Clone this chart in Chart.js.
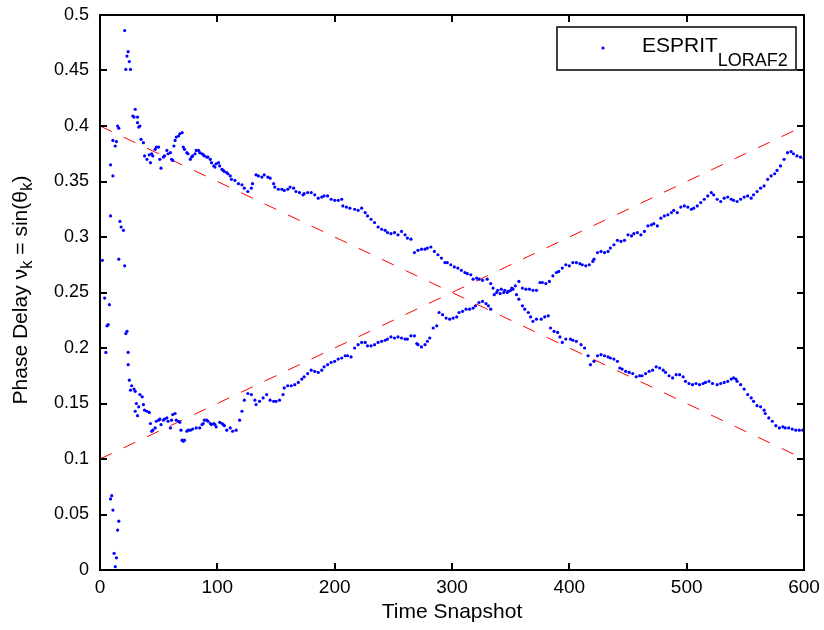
<!DOCTYPE html>
<html>
<head>
<meta charset="utf-8">
<script src="https://cdn.jsdelivr.net/npm/chart.js@4.4.1/dist/chart.umd.min.js"></script>
<style>
  html, body { margin: 0; padding: 0; background: #fff; }
  #wrap { width: 824px; height: 630px; }
</style>
</head>
<body>
<div id="wrap"><canvas id="chart" width="824" height="630"></canvas></div>
<script>
const FONT = '"Liberation Sans", Arial, sans-serif';

const xTicks = [0, 100, 200, 300, 400, 500, 600];
const yTicks = [0, 0.05, 0.1, 0.15, 0.2, 0.25, 0.3, 0.35, 0.4, 0.45, 0.5];

// true phase delays (dashed red)
const trueSnap = [0, 600];
const trueDown = [0.4, 0.1];
const trueUp = [0.1, 0.4];

// first snapshots, before the estimates settle
const earlySnap = [2, 4, 5, 6, 7, 8, 9, 9, 9, 10, 11, 11, 11, 12, 13, 13, 14, 14, 15, 15,
  16, 16, 16, 17, 18, 20, 21, 21, 22, 22, 23, 23, 24, 24, 24, 25, 25, 26, 26, 27,
  28, 29, 29, 30, 30, 30, 31, 32, 32, 32, 33, 33];
const earlyPhase = [0.279, 0.245, 0.196, 0.220, 0.221, 0.239, 0.319, 0.064, 0.365, 0.067, 0.355, 0.054, 0.387, 0.015, 0.382, 0.003, 0.386, 0.011, 0.400, 0.036,
  0.398, 0.044, 0.280, 0.314, 0.309, 0.306, 0.274, 0.486, 0.451, 0.213, 0.463, 0.215, 0.467, 0.185, 0.196, 0.458, 0.171, 0.451, 0.162, 0.166,
  0.409, 0.408, 0.163, 0.415, 0.161, 0.143, 0.150, 0.408, 0.403, 0.139, 0.147, 0.399];

// source going from 0.4 down to 0.1
const downSnap = [34, 35, 37, 38, 40, 42, 43, 44, 45, 47, 48, 50, 51, 52, 54, 55, 57, 58, 60, 61,
  62, 63, 64, 65, 67, 68, 70, 71, 72, 74, 75, 77, 78, 79, 81, 82, 84, 85, 87, 88,
  89, 91, 92, 94, 95, 97, 98, 99, 101, 102, 104, 105, 106, 108, 109, 111, 112, 115, 118, 121,
  123, 126, 129, 130, 133, 135, 138, 140, 143, 145, 148, 149, 152, 155, 157, 160, 162, 165, 167, 170,
  173, 174, 177, 180, 183, 186, 189, 191, 194, 197, 200, 203, 206, 207, 210, 213, 217, 220, 223, 226,
  228, 231, 234, 237, 240, 243, 245, 248, 251, 254, 257, 260, 262, 265, 268, 271, 274, 277, 279, 282,
  285, 288, 291, 294, 296, 299, 302, 305, 308, 311, 313, 316, 318, 321, 323, 326, 330, 333, 335, 338,
  341, 344, 347, 350, 352, 355, 357, 360, 362, 365, 367, 369, 372, 376, 379, 382, 384, 387, 390, 392,
  394, 397, 401, 403, 406, 410, 413, 416, 418, 421, 424, 427, 430, 433, 435, 438, 441, 443, 445, 448,
  451, 454, 457, 460, 462, 465, 468, 471, 474, 477, 480, 482, 485, 488, 491, 494, 497, 499, 502, 505,
  508, 511, 514, 516, 519, 522, 526, 529, 532, 535, 538, 540, 542, 543, 546, 549, 552, 555, 557, 560,
  563, 566, 567, 570, 573, 576, 579, 582, 584, 587, 590, 593, 596, 599];
const downPhase = [0.400, 0.388, 0.385, 0.373, 0.370, 0.374, 0.367, 0.375, 0.373, 0.379, 0.381, 0.381, 0.370, 0.362, 0.372, 0.373, 0.378, 0.375, 0.376, 0.370,
  0.369, 0.382, 0.387, 0.390, 0.391, 0.393, 0.394, 0.381, 0.379, 0.376, 0.375, 0.370, 0.372, 0.373, 0.375, 0.378, 0.378, 0.376, 0.375, 0.374,
  0.373, 0.372, 0.372, 0.370, 0.367, 0.364, 0.363, 0.366, 0.367, 0.364, 0.361, 0.360, 0.359, 0.358, 0.357, 0.355, 0.352, 0.351, 0.348, 0.347,
  0.344, 0.341, 0.344, 0.348, 0.356, 0.355, 0.354, 0.356, 0.354, 0.353, 0.348, 0.345, 0.343, 0.343, 0.342, 0.343, 0.345, 0.344, 0.341, 0.340,
  0.338, 0.339, 0.340, 0.340, 0.338, 0.335, 0.336, 0.337, 0.337, 0.334, 0.333, 0.333, 0.334, 0.328, 0.327, 0.326, 0.325, 0.324, 0.326, 0.322,
  0.319, 0.316, 0.313, 0.309, 0.307, 0.306, 0.304, 0.303, 0.304, 0.302, 0.305, 0.302, 0.299, 0.298, 0.286, 0.288, 0.289, 0.289, 0.290, 0.291,
  0.287, 0.284, 0.281, 0.277, 0.277, 0.275, 0.273, 0.272, 0.270, 0.268, 0.267, 0.266, 0.262, 0.263, 0.262, 0.261, 0.262, 0.258, 0.254, 0.250,
  0.249, 0.250, 0.250, 0.252, 0.253, 0.248, 0.244, 0.238, 0.235, 0.232, 0.228, 0.224, 0.226, 0.226, 0.228, 0.229, 0.218, 0.215, 0.214, 0.210,
  0.205, 0.208, 0.208, 0.207, 0.206, 0.203, 0.200, 0.193, 0.185, 0.188, 0.193, 0.194, 0.193, 0.192, 0.191, 0.190, 0.188, 0.182, 0.181, 0.179,
  0.178, 0.177, 0.174, 0.175, 0.175, 0.177, 0.179, 0.180, 0.183, 0.182, 0.180, 0.178, 0.175, 0.173, 0.176, 0.176, 0.174, 0.170, 0.168, 0.167,
  0.168, 0.167, 0.168, 0.169, 0.170, 0.168, 0.167, 0.168, 0.169, 0.170, 0.172, 0.173, 0.172, 0.170, 0.167, 0.163, 0.158, 0.155, 0.152, 0.148,
  0.147, 0.144, 0.141, 0.137, 0.134, 0.130, 0.128, 0.129, 0.128, 0.128, 0.127, 0.126, 0.126, 0.126];

// source going from 0.1 up to 0.4
const upSnap = [34, 36, 37, 38, 40, 42, 43, 44, 45, 47, 48, 50, 51, 52, 54, 55, 57, 58, 60, 61,
  62, 64, 65, 67, 68, 69, 70, 71, 72, 74, 75, 77, 79, 82, 85, 87, 88, 89, 91, 92,
  94, 95, 97, 98, 99, 102, 104, 105, 106, 108, 111, 113, 116, 119, 121, 123, 126, 129, 132, 133,
  136, 139, 142, 145, 148, 150, 153, 156, 157, 160, 163, 166, 169, 172, 174, 177, 180, 183, 186, 189,
  191, 194, 197, 200, 203, 206, 209, 211, 214, 217, 220, 223, 226, 228, 231, 234, 237, 240, 243, 245,
  248, 251, 254, 257, 260, 262, 265, 268, 270, 271, 274, 277, 279, 281, 284, 287, 289, 292, 295, 298,
  301, 304, 306, 309, 312, 315, 318, 320, 323, 326, 329, 331, 333, 336, 339, 342, 345, 348, 351, 354,
  357, 360, 363, 366, 369, 372, 375, 377, 380, 383, 386, 389, 391, 394, 397, 400, 403, 406, 409, 411,
  414, 417, 420, 421, 424, 427, 430, 433, 435, 438, 441, 444, 447, 450, 453, 455, 458, 461, 464, 467,
  470, 472, 475, 478, 481, 484, 487, 489, 492, 495, 498, 501, 504, 506, 509, 512, 515, 518, 521, 523,
  526, 529, 532, 535, 538, 540, 543, 546, 549, 552, 555, 557, 560, 563, 566, 569, 572, 575, 577, 580,
  583, 586, 589, 591, 594, 597, 600];
const upPhase = [0.158, 0.156, 0.149, 0.144, 0.143, 0.142, 0.132, 0.125, 0.126, 0.128, 0.134, 0.135, 0.136, 0.131, 0.135, 0.136, 0.137, 0.134, 0.128, 0.135,
  0.140, 0.141, 0.135, 0.134, 0.133, 0.126, 0.117, 0.116, 0.117, 0.125, 0.126, 0.126, 0.127, 0.128, 0.128, 0.131, 0.132, 0.135, 0.135, 0.134,
  0.132, 0.131, 0.132, 0.131, 0.129, 0.133, 0.132, 0.131, 0.130, 0.126, 0.128, 0.125, 0.126, 0.135, 0.143, 0.153, 0.159, 0.158, 0.153, 0.149,
  0.152, 0.155, 0.158, 0.153, 0.152, 0.152, 0.153, 0.158, 0.164, 0.166, 0.166, 0.167, 0.169, 0.172, 0.174, 0.177, 0.180, 0.179, 0.178, 0.180,
  0.183, 0.185, 0.187, 0.188, 0.190, 0.191, 0.193, 0.193, 0.192, 0.200, 0.203, 0.205, 0.205, 0.202, 0.202, 0.203, 0.205, 0.206, 0.207, 0.208,
  0.210, 0.209, 0.210, 0.209, 0.208, 0.208, 0.211, 0.211, 0.204, 0.203, 0.201, 0.203, 0.206, 0.209, 0.218, 0.220, 0.232, 0.230, 0.227, 0.226,
  0.227, 0.228, 0.232, 0.233, 0.235, 0.235, 0.236, 0.238, 0.241, 0.242, 0.240, 0.238, 0.235, 0.248, 0.252, 0.253, 0.252, 0.251, 0.254, 0.256,
  0.260, 0.254, 0.253, 0.253, 0.252, 0.252, 0.259, 0.259, 0.258, 0.260, 0.265, 0.268, 0.269, 0.272, 0.275, 0.274, 0.277, 0.277, 0.276, 0.275,
  0.274, 0.275, 0.278, 0.280, 0.286, 0.287, 0.286, 0.287, 0.290, 0.293, 0.297, 0.296, 0.297, 0.302, 0.301, 0.303, 0.304, 0.302, 0.305, 0.310,
  0.311, 0.312, 0.310, 0.317, 0.319, 0.320, 0.322, 0.324, 0.322, 0.327, 0.328, 0.327, 0.325, 0.326, 0.328, 0.331, 0.334, 0.337, 0.340, 0.338,
  0.334, 0.332, 0.335, 0.336, 0.334, 0.333, 0.332, 0.334, 0.336, 0.337, 0.335, 0.338, 0.341, 0.344, 0.346, 0.352, 0.355, 0.357, 0.360, 0.364,
  0.370, 0.376, 0.377, 0.375, 0.373, 0.372, 0.371];

const toPoints = (xs, ys) => xs.map((x, i) => ({x: x, y: ys[i]}));

const estimates = [
  ...toPoints(earlySnap, earlyPhase),
  ...toPoints(downSnap, downPhase),
  ...toPoints(upSnap, upPhase)
];

// draws text made of normal and subscript pieces, starting at x
function richText(ctx, parts, x, y, size, subSize, subDrop, measureOnly) {
  let cx = x;
  parts.forEach(([txt, sub]) => {
    ctx.font = (sub ? subSize : size) + 'px ' + FONT;
    if (!measureOnly) ctx.fillText(txt, cx, sub ? y + subDrop : y);
    cx += ctx.measureText(txt).width;
  });
  return cx - x;
}

const matlabLook = {
  id: 'matlabLook',
  afterDraw(chart) {
    const {ctx, chartArea: a, scales} = chart;
    const xs = scales.x, ys = scales.y;
    ctx.save();

    // box + inward ticks on all four sides
    ctx.strokeStyle = '#000';
    ctx.lineWidth = 2;
    ctx.strokeRect(a.left, a.top, a.right - a.left, a.bottom - a.top);
    ctx.beginPath();
    xs.ticks.forEach(t => {
      const px = Math.round(xs.getPixelForValue(t.value));
      ctx.moveTo(px, a.bottom); ctx.lineTo(px, a.bottom - 7);
      ctx.moveTo(px, a.top); ctx.lineTo(px, a.top + 7);
    });
    ys.ticks.forEach(t => {
      const py = Math.round(ys.getPixelForValue(t.value));
      ctx.moveTo(a.left, py); ctx.lineTo(a.left + 7, py);
      ctx.moveTo(a.right, py); ctx.lineTo(a.right - 7, py);
    });
    ctx.stroke();

    ctx.fillStyle = '#000';
    ctx.textBaseline = 'middle';

    // x title
    ctx.font = '21px ' + FONT;
    ctx.textAlign = 'center';
    ctx.fillText('Time Snapshot', (a.left + a.right) / 2, 612);

    // y title, rotated, with subscripts
    ctx.textAlign = 'left';
    const yParts = [['Phase Delay \u03BD', false], ['k', true], [' = sin(\u03B8', false], ['k', true], [')', false]];
    const w = richText(ctx, yParts, 0, 0, 21, 17, 6, true);
    ctx.save();
    ctx.translate(21, 290);
    ctx.rotate(-Math.PI / 2);
    richText(ctx, yParts, -w / 2, 0, 21, 17, 6, false);
    ctx.restore();

    // legend box
    ctx.fillStyle = '#fff';
    ctx.fillRect(557, 27, 239, 43);
    ctx.lineWidth = 1.5;
    ctx.strokeRect(557, 27, 239, 43);
    ctx.fillStyle = 'rgb(0,0,255)';
    ctx.beginPath();
    ctx.arc(603, 48, 1.6, 0, Math.PI * 2);
    ctx.fill();
    ctx.fillStyle = '#000';
    ctx.textBaseline = 'alphabetic';
    richText(ctx, [['ESPRIT', false], ['LORAF2', true]], 642, 52, 21, 18, 14, false);

    ctx.restore();
  }
};

new Chart(document.getElementById('chart'), {
  type: 'scatter',
  data: {
    datasets: [
      {
        label: 'ESPRIT_LORAF2',
        data: estimates,
        pointRadius: 1.6,
        pointBorderWidth: 0,
        pointBackgroundColor: 'rgb(0,0,255)',
        pointBorderColor: 'rgb(0,0,255)'
      },
      {
        label: 'true 1',
        data: toPoints(trueSnap, trueDown),
        showLine: true,
        pointRadius: 0,
        borderColor: 'rgb(255,0,0)',
        borderWidth: 1,
        borderDash: [13, 13]
      },
      {
        label: 'true 2',
        data: toPoints(trueSnap, trueUp),
        showLine: true,
        pointRadius: 0,
        borderColor: 'rgb(255,0,0)',
        borderWidth: 1,
        borderDash: [13, 13]
      }
    ]
  },
  options: {
    responsive: false,
    animation: false,
    layout: {padding: {top: 15, right: 20, left: 0, bottom: 0}},
    plugins: {
      legend: {display: false},
      tooltip: {enabled: false}
    },
    scales: {
      x: {
        type: 'linear',
        min: 0,
        max: 600,
        afterBuildTicks: s => { s.ticks = xTicks.map(v => ({value: v})); },
        afterFit: s => { s.height = 60; s.paddingLeft = 0; s.paddingRight = 0; },
        grid: {display: false, drawTicks: false},
        border: {display: false},
        ticks: {
          padding: 6,
          color: '#000',
          font: {family: FONT, size: 19},
          callback: v => String(v)
        }
      },
      y: {
        type: 'linear',
        min: 0,
        max: 0.5,
        afterBuildTicks: s => { s.ticks = yTicks.map(v => ({value: v})); },
        afterFit: s => { s.width = 100; s.paddingTop = 0; s.paddingBottom = 0; },
        grid: {display: false, drawTicks: false},
        border: {display: false},
        ticks: {
          padding: 11,
          color: '#000',
          font: {family: FONT, size: 18},
          callback: v => String(v)
        }
      }
    }
  },
  plugins: [matlabLook]
});
</script>
</body>
</html>
